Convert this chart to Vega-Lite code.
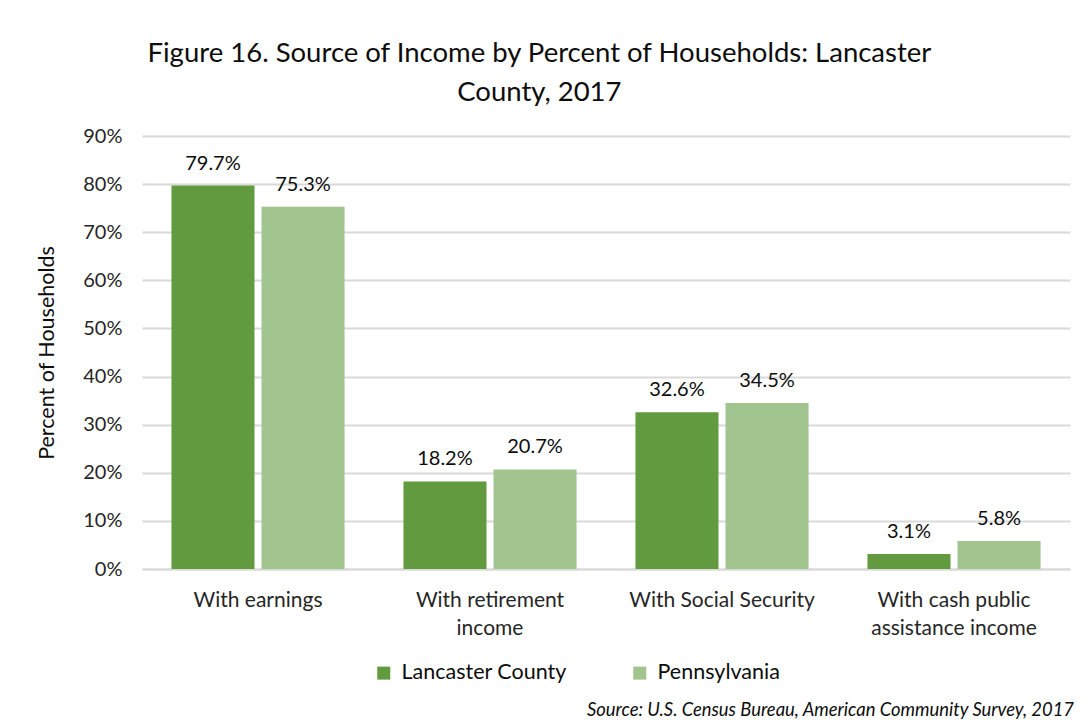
{
  "$schema": "https://vega.github.io/schema/vega-lite/v6.json",
  "background": "white",
  "padding": {"left": 36, "top": 39, "right": 20, "bottom": 5},
  "title": {
    "text": ["Figure 16. Source of Income by Percent of Households: Lancaster", "County, 2017"],
    "fontSize": 27.5,
    "fontWeight": "normal",
    "font": "Lato",
    "color": "#0d0d0d",
    "lineHeight": 39,
    "anchor": "middle",
    "dx": -16,
    "offset": 20
  },
  "data": {
    "values": [
      {"source": "With earnings", "area": "Lancaster County", "pct": 0.797},
      {"source": "With earnings", "area": "Pennsylvania", "pct": 0.753},
      {"source": "With retirement income", "area": "Lancaster County", "pct": 0.182},
      {"source": "With retirement income", "area": "Pennsylvania", "pct": 0.207},
      {"source": "With Social Security", "area": "Lancaster County", "pct": 0.326},
      {"source": "With Social Security", "area": "Pennsylvania", "pct": 0.345},
      {"source": "With cash public assistance income", "area": "Lancaster County", "pct": 0.031},
      {"source": "With cash public assistance income", "area": "Pennsylvania", "pct": 0.058}
    ]
  },
  "resolve": {"legend": {"color": "independent"}},
  "vconcat": [
    {
      "width": 928,
      "height": 433,
      "title": {
        "text": "Source: U.S. Census Bureau, American Community Survey, 2017",
        "orient": "bottom",
        "anchor": "end",
        "fontSize": 18.4,
        "fontStyle": "italic",
        "fontWeight": "normal",
        "font": "Lato",
        "color": "#0d0d0d",
        "dx": 4,
        "offset": 17
      },
      "encoding": {
        "x": {
          "field": "source",
          "type": "nominal",
          "sort": ["With earnings", "With retirement income", "With Social Security", "With cash public assistance income"],
          "scale": {"paddingInner": 0.254, "paddingOuter": 0.127},
          "axis": {
            "title": null,
            "labelAngle": 0,
            "ticks": false,
            "domainColor": "#d9d9d9",
            "domainWidth": 2,
            "labelFont": "Lato",
            "labelFontSize": 21,
            "labelColor": "#262626",
            "labelPadding": 20,
            "labelLineHeight": 28,
            "labelLimit": 400,
            "labelExpr": "datum.label == 'With retirement income' ? ['With retirement', 'income'] : datum.label == 'With cash public assistance income' ? ['With cash public', 'assistance income'] : datum.label"
          }
        },
        "xOffset": {
          "field": "area",
          "type": "nominal",
          "scale": {"paddingInner": 0.078, "paddingOuter": 0}
        },
        "y": {
          "field": "pct",
          "type": "quantitative",
          "scale": {"domain": [0, 0.9]},
          "axis": {
            "title": "Percent of Households",
            "titleFont": "Lato",
            "titleFontSize": 21.5,
            "titleFontWeight": "normal",
            "titleColor": "#0d0d0d",
            "titlePadding": 24,
            "values": [0, 0.1, 0.2, 0.3, 0.4, 0.5, 0.6, 0.7, 0.8, 0.9],
            "format": ".0%",
            "domain": false,
            "ticks": false,
            "labelFont": "Lato",
            "labelFontSize": 20,
            "labelColor": "#262626",
            "labelPadding": 20,
            "gridColor": "#d9d9d9",
            "gridWidth": 2
          }
        }
      },
      "layer": [
        {
          "mark": {"type": "bar"},
          "encoding": {
            "color": {
              "field": "area",
              "type": "nominal",
              "scale": {"domain": ["Lancaster County", "Pennsylvania"], "range": ["#629a3f", "#a2c48f"]},
              "legend": {
                "title": null,
                "orient": "none",
                "direction": "horizontal",
                "legendX": 231,
                "legendY": 526,
                "symbolType": "square",
                "symbolSize": 169,
                "symbolStrokeWidth": 0,
                "symbolOpacity": 1,
                "labelFont": "Lato",
                "labelFontSize": 21.5,
                "labelColor": "#0d0d0d",
                "labelOffset": 7,
                "labelLimit": 400,
                "columnPadding": 62
              }
            }
          }
        },
        {
          "mark": {"type": "text", "dy": -16, "baseline": "alphabetic", "font": "Lato", "fontSize": 20, "color": "#0d0d0d"},
          "encoding": {
            "text": {"field": "pct", "type": "quantitative", "format": ".1%"}
          }
        }
      ]
    }
  ],
  "config": {
    "view": {"stroke": null},
    "concat": {"spacing": 0}
  }
}
